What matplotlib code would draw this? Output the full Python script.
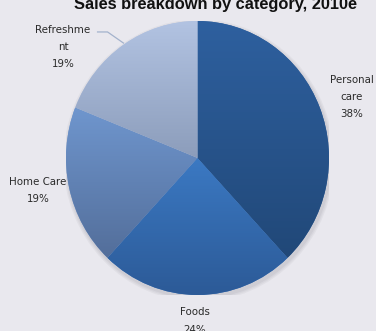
import numpy as np
import matplotlib
matplotlib.use("Agg")
import matplotlib.pyplot as plt
from matplotlib.colors import LinearSegmentedColormap
from matplotlib.patches import Ellipse

# Sales share per category, clockwise from 12 o'clock
categories = ["Personal\ncare", "Foods", "Home Care", "Refreshme\nnt"]
shares = [38, 24, 19, 19]

# top / bottom colour of each slice's gradient
top_colors = ["#2e609f", "#3b79c3", "#6f96ce", "#b2c3e2"]
bottom_colors = ["#214878", "#2c5a97", "#536e9a", "#8c9dbb"]

# label anchors in pie units (x, y)
label_pos = [(1.175, 0.445), (-0.02, -1.19), (-1.213, -0.24), (-1.023, 0.81)]

bg = "#e9e8ee"
fig = plt.figure(figsize=(3.76, 3.31), dpi=100, facecolor=bg)
ax = fig.add_axes([66 / 376, 36 / 331, 263 / 376, 274 / 331])
ax.set_facecolor(bg)

# soft shadow under the pie
for k, a in enumerate([0.05, 0.05, 0.06]):
    sh = Ellipse((0.01, -0.018), 2.0 + 0.02 * (3 - k), 2.0 + 0.02 * (3 - k),
                 facecolor="#404050", edgecolor="none", alpha=a, zorder=0)
    ax.add_patch(sh)

wedges, _ = ax.pie(shares, startangle=90, counterclock=False,
                   colors=top_colors, radius=1.0,
                   wedgeprops=dict(linewidth=0, zorder=1))

# vertical gradient fill clipped to each wedge
grad = np.linspace(1, 0, 256).reshape(-1, 1)
for w, c_top, c_bot in zip(wedges, top_colors, bottom_colors):
    verts = w.get_path().vertices
    x0, x1 = verts[:, 0].min(), verts[:, 0].max()
    y0, y1 = verts[:, 1].min(), verts[:, 1].max()
    cmap = LinearSegmentedColormap.from_list("g", [c_bot, c_top])
    im = ax.imshow(grad, cmap=cmap, extent=[x0, x1, y0, y1], aspect="auto",
                   interpolation="bicubic", zorder=2)
    im.set_clip_path(w)

ax.set_aspect("auto")
ax.set_xlim(-1, 1)
ax.set_ylim(-1, 1)
ax.axis("off")

for name, share, (lx, ly) in zip(categories, shares, label_pos):
    ax.text(lx, ly, f"{name}\n{share}%", ha="center", va="center",
            fontsize=7.4, color="#2a2a2a", linespacing=1.9, clip_on=False,
            zorder=5)

# leader line for the refreshment label
ax.plot([-0.760, -0.684, -0.563], [0.920, 0.920, 0.839], color="#a3b2cc",
        linewidth=0.9, clip_on=False, zorder=4)

fig.text(215 / 376, 1 - 9 / 331, "Sales breakdown by category, 2010e",
         ha="center", va="baseline", fontsize=11.8, fontweight="bold",
         family="Liberation Sans", color="#111111")

fig.savefig("out.png", dpi=100, facecolor=bg)
